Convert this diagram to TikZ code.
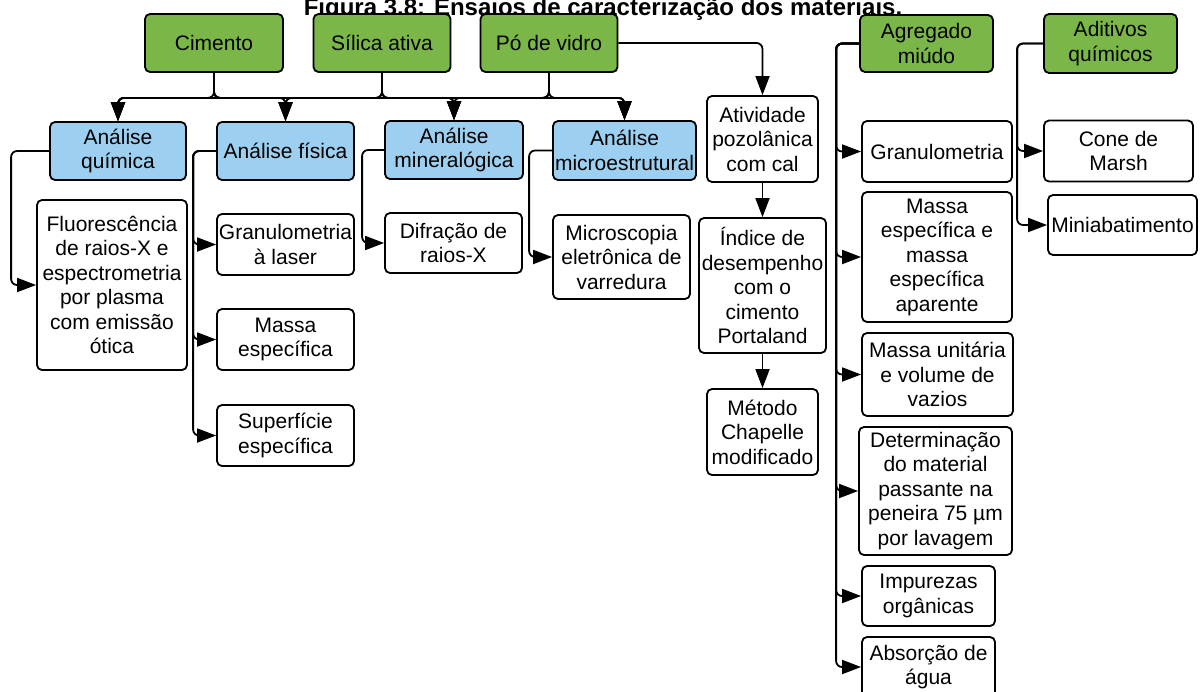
\documentclass[tikz,border=0pt]{standalone}
\usepackage{fontspec}
\setmainfont{Liberation Sans}
\usetikzlibrary{arrows.meta,positioning,calc}
\definecolor{verde}{HTML}{7AB648}
\definecolor{azul}{HTML}{9DD0F0}
\tikzset{sz/.style 2 args={minimum width=#1pt, minimum height=#2pt}}

\begin{document}
\begin{tikzpicture}[->, >={Triangle[length=19pt,width=14pt]}, x=1pt, y=-1pt, line width=1.8pt]
\tikzstyle{box}=[draw=black, fill=white, line width=1.8pt, rounded corners=5pt, align=center, inner sep=1pt, font=\fontsize{21}{24.5}\selectfont]
\tikzstyle{mat}=[box, fill=verde]
\tikzstyle{ana}=[box, fill=azul]
\tikzstyle{liga}=[rounded corners=6pt]
\useasboundingbox (0,0) rectangle (1202,691);

\node[anchor=base, font=\bfseries\fontsize{24}{28}\selectfont] (titulo) at (603,15) {Figura 3.8: Ensaios de caracterização dos materiais.};

\node[mat, sz={138}{58}]  (cim) at (214,43)     {Cimento};
\node[mat, sz={137}{58}]  (sil) at (382,43)     {Sílica ativa};
\node[mat, sz={137}{58}]  (po)  at (549,43)     {Pó de vidro};
\node[mat, sz={133}{57}]  (ag)  at (926.5,43.5) {Agregado\\miúdo};
\node[mat, sz={133}{59}]  (adq) at (1110.5,43.5) {Aditivos\\químicos};

\node[ana, sz={136}{58}]  (aq)  at (118,151)    {Análise\\química};
\node[ana, sz={137}{58}]  (af)  at (285.5,151)  {Análise física};
\node[ana, sz={138}{58}]  (am)  at (454,150)    {Análise\\mineralógica};
\node[ana, sz={143}{59}]  (ame) at (624.5,150.5) {Análise\\microestrutural};

\node[box, sz={150}{170}] (fl)  at (112,285)    {Fluorescência\\de raios-X e\\espectrometria\\por plasma\\com emissão\\ótica};
\node[box, sz={137}{61}]  (gl)  at (285.5,244.5) {Granulometria\\à laser};
\node[box, sz={137}{61}]  (me)  at (285.5,339.5) {Massa\\específica};
\node[box, sz={137}{61}]  (se)  at (285.5,435.5) {Superfície\\específica};
\node[box, sz={137}{60}]  (dr)  at (453.5,243)  {Difração de\\raios-X};
\node[box, sz={137}{84}]  (mev) at (621.5,257)  {Microscopia\\eletrônica de\\varredura};

\node[box, sz={111}{86}]  (ap)  at (762.5,139)  {Atividade\\pozolânica\\com cal};
\node[box, sz={127}{135}] (ind) at (762.5,285.5) {Índice de\\desempenho\\com o\\cimento\\Portaland};
\node[box, sz={111}{86}]  (mc)  at (762.5,432)  {Método\\Chapelle\\modificado};

\node[box, sz={150}{61}]  (gr)  at (937,151.5)  {Granulometria};
\node[box, sz={150}{130}] (mea) at (937,257)    {Massa\\específica e\\massa\\específica\\aparente};
\node[box, sz={151}{83}]  (mu)  at (937.5,374.5) {Massa unitária\\e volume de\\vazios};
\node[box, sz={153}{128}] (det) at (935.5,491)  {Determinação\\do material\\passante na\\peneira 75 µm\\por lavagem};
\node[box, sz={133}{60}]  (imp) at (928.5,596)  {Impurezas\\orgânicas};
\node[box, sz={133}{60}]  (abs) at (928.5,667)  {Absorção de\\água};

\node[box, sz={149}{61}]  (cm)  at (1118.5,151) {Cone de\\Marsh};
\node[box, sz={149}{60}]  (mini) at (1122.5,225) {Miniabatimento};

\foreach \s in {cim,sil,po}
  \foreach \t in {aq,af,am,ame}
    \draw[liga] (\s.south) -- ++(0,25) -| (\t.north);

\draw[liga] (aq.west) -- ++(-38,0) |- (fl.west);
\foreach \t in {gl,me,se}
  \draw[liga] (af.west) -- ++(-23,0) |- (\t.west);
\draw[liga] (am.west) -- ++(-22,0) |- (dr.west);
\draw[liga] (ame.west) -- ++(-23,0) |- (mev.west);

\draw[liga] (po.east) -| (ap.north);
\draw (ap) -- (ind);
\draw (ind) -- (mc);

\foreach \t in {gr,mea,mu,det,imp,abs}
  \draw[liga] (ag.west) -- ++(-23,0) |- (\t.west);
\foreach \t in {cm,mini}
  \draw[liga] (adq.west) -- ++(-26,0) |- (\t.west);
\end{tikzpicture}
\end{document}
